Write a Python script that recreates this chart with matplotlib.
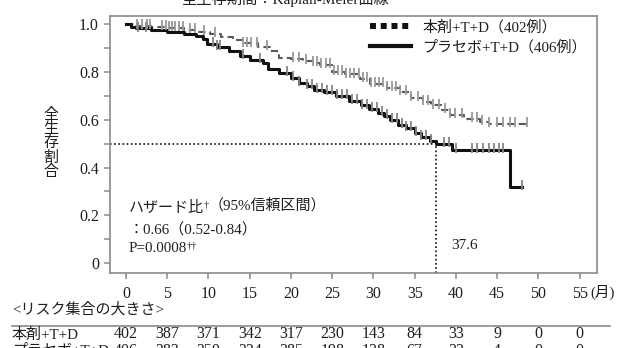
import numpy as np
import matplotlib.pyplot as plt
from matplotlib.lines import Line2D
from matplotlib.transforms import blended_transform_factory

plt.rcParams['font.family'] = ['Liberation Serif', 'Noto Sans CJK JP', 'DejaVu Sans']

# KM curve, 本剤+T+D (step points)
drug_t = [0, 1, 3, 5, 7, 8.6, 10.2, 11.5, 13.0, 14.2, 16.0, 17.5, 18.5, 20.0, 21.5,
          22.7, 23.5, 25.0, 26.5, 28.4, 29.6, 31.6, 33.2, 34.5, 36.0, 37.0, 38.3,
          39.3, 41.0, 42.9, 44.0, 48.6]
drug_s = [1.0, 0.995, 0.99, 0.985, 0.978, 0.97, 0.958, 0.948, 0.933, 0.92, 0.905, 0.89,
          0.86, 0.855, 0.848, 0.838, 0.83, 0.80, 0.79, 0.77, 0.75, 0.735, 0.715, 0.69,
          0.675, 0.66, 0.64, 0.62, 0.605, 0.59, 0.583, 0.583]

# KM curve, プラセボ+T+D
plac_t = [0, 0.6, 1.2, 3, 5, 7, 8.5, 9.3, 9.8, 11.0, 12.5, 13.8, 15.0, 16.6, 17.2,
          18.5, 20.0, 21.0, 22.0, 22.8, 24.0, 25.5, 27.0, 28.5, 29.5, 30.5, 31.3,
          32.0, 33.0, 34.0, 35.0, 35.8, 36.8, 37.6, 39.5, 46.5, 48.0]
plac_s = [1.0, 0.99, 0.983, 0.975, 0.968, 0.96, 0.95, 0.94, 0.918, 0.905, 0.89, 0.868,
          0.85, 0.838, 0.815, 0.795, 0.775, 0.755, 0.74, 0.725, 0.715, 0.70, 0.68,
          0.66, 0.645, 0.63, 0.615, 0.598, 0.58, 0.565, 0.545, 0.53, 0.512, 0.498,
          0.475, 0.317, 0.317]

# censored observations (months)
drug_cens = [1.3, 1.9, 2.5, 2.9, 4.4, 4.8, 5.2, 5.6, 6.0, 6.4, 6.9, 7.8, 8.4, 9.4, 10.8,
             14.2, 14.7, 15.2, 15.9, 17.1, 20.2, 21.0, 21.8, 22.7, 23.2, 23.7, 24.2,
             24.7, 25.2, 25.7, 26.2, 26.7, 27.2, 27.7, 28.2, 28.7, 29.2, 29.7, 30.2,
             30.7, 31.2, 31.7, 32.2, 32.7, 33.2, 33.9, 34.6, 35.4, 36.0, 36.6, 37.2,
             37.9, 38.7, 39.3, 39.9, 40.7, 41.9, 42.6, 43.1, 44.0, 45.0, 45.7, 46.5,
             47.2, 48.6]
plac_cens = [1.5, 2.4, 10.5, 11.0, 11.4, 14.2, 16.2, 19.5, 20.2, 21.0, 22.0, 22.6,
             23.2, 23.8, 24.4, 25.0, 25.6, 26.2, 26.8, 27.4, 28.0, 28.6, 29.2, 29.8,
             30.4, 31.0, 31.6, 32.2, 32.8, 33.4, 34.0, 34.6, 35.2, 35.8, 36.4, 37.0,
             38.5, 39.2, 40.0, 42.0, 42.6, 43.3, 44.0, 44.6, 45.2, 45.7, 48.0]

median_months = 37.6
x_ticks = [0, 5, 10, 15, 20, 25, 30, 35, 40, 45, 50, 55]
y_major = [0, 0.2, 0.4, 0.6, 0.8, 1.0]
y_labels = ['0', '0.2', '0.4', '0.6', '0.8', '1.0']
y_minor = [0.1, 0.3, 0.5, 0.7, 0.9]

risk_drug = [402, 387, 371, 342, 317, 230, 143, 84, 33, 9, 0, 0]
risk_plac = [406, 383, 350, 324, 285, 198, 128, 67, 22, 4, 0, 0]

drug_label = '本剤+T+D（402例）'
plac_label = 'プラセボ+T+D（406例）'


def surv_at(ts, ss, times):
    idx = np.searchsorted(ts, times, side='right') - 1
    return np.array(ss)[idx]


fig = plt.figure(figsize=(6.2, 3.48), dpi=100)
ax = fig.add_axes([0.1774, 0.2155, 0.7855, 0.7385])
txt = '#1e1e1e'
frame = '#8a8a8a'

ax.step(drug_t, drug_s, where='post', color='#5a5a5a', lw=1.5, ls=(0, (3.5, 2)))
ax.step(plac_t, plac_s, where='post', color='#111111', lw=2.2)
ax.plot(drug_cens, surv_at(drug_t, drug_s, drug_cens) + 0.008, ls='none', marker='|',
        ms=6.5, mew=1.3, color='#999999')
ax.plot(plac_cens, surv_at(plac_t, plac_s, plac_cens) + 0.008, ls='none', marker='|',
        ms=6.5, mew=1.3, color='#858585')

ax.set_xlim(-1.94, 57.1)
ax.set_ylim(-0.042, 1.035)

# median
ax.plot([-1.94, median_months], [0.5, 0.5], color='#111111', lw=1.2, ls=(0, (1, 1.5)))
ax.plot([median_months, median_months], [-0.042, 0.5], color='#111111', lw=1.2,
        ls=(0, (1, 1.5)))
ax.text(median_months + 1.8, 0.075, str(median_months), fontsize=11, color=txt,
        va='center', ha='left')

for sp in ax.spines.values():
    sp.set_color(frame)
    sp.set_linewidth(1.2)
ax.set_xticks(x_ticks)
ax.set_xticklabels([str(v) for v in x_ticks])
ax.set_yticks(y_major)
ax.set_yticklabels(y_labels)
ax.set_yticks(y_minor, minor=True)
ax.tick_params(axis='both', which='both', direction='out', length=4, width=1.1,
               color=frame, labelcolor=txt, labelsize=11.5, pad=4)
ax.tick_params(axis='x', pad=5)

ax.annotate('(月)', xy=(55, 0), xycoords=('data', 'axes fraction'),
            xytext=(8, -14), textcoords='offset points', ha='left', va='center',
            fontsize=10.5, color=txt)

handles = [Line2D([], [], color='#111111', lw=4.3, ls=(0, (1, 0.8))),
           Line2D([], [], color='#111111', lw=3)]
ax.legend(handles, [drug_label, plac_label], loc='upper left',
          bbox_to_anchor=(0.534, 0.985), frameon=False, fontsize=10.8,
          handlelength=2.7, handletextpad=0.8, labelspacing=0.35, borderpad=0,
          borderaxespad=0, labelcolor=txt)

# hazard ratio note
t1 = ax.text(0.3, 0.233, 'ハザード比', fontsize=10.8, color=txt, va='center')
d1 = ax.annotate('†', xy=(1, 1), xycoords=t1, va='top', ha='left', fontsize=7.5,
                 color=txt)
ax.annotate('（95%信頼区間）', xy=(1, 0), xycoords=d1, xytext=(0, -2),
            textcoords='offset points', va='bottom', ha='left', fontsize=10.8, color=txt)
ax.text(0.3, 0.137, '：0.66（0.52-0.84）', fontsize=10.8, color=txt, va='center')
t3 = ax.text(0.3, 0.062, 'P=0.0008', fontsize=10.8, color=txt, va='center')
ax.annotate('††', xy=(1, 1), xycoords=t3, va='top', ha='left', fontsize=7.5, color=txt)

# title (cut off at top of the image)
fig.text(0.5 - 0.04, 1.0 + 1 / 348, '全生存期間：Kaplan-Meier曲線', fontsize=11,
         color=txt, ha='center', va='center')

# y label stacked vertically
fig.text(51 / 620, 1 - 143.5 / 348, '\n'.join('全生存割合'), fontsize=10.8, color=txt,
         ha='center', va='center', linespacing=1.0,
         family=['Noto Sans CJK JP'])

# number at risk table
tr = blended_transform_factory(ax.transData, fig.transFigure)
fig.text(12 / 620, 1 - 310 / 348, '<リスク集合の大きさ>', fontsize=10.8, color=txt,
         ha='left', va='center')
fig.add_artist(Line2D([12 / 620, 610 / 620], [1 - 326 / 348, 1 - 326 / 348],
                      color=frame, lw=1.2))
rows = [('本剤+T+D', risk_drug, 334.5), ('プラセボ+T+D', risk_plac, 351)]
for name, vals, ypx in rows:
    fig.text(12 / 620, 1 - ypx / 348, name, fontsize=10.8, color=txt, ha='left',
             va='center')
    for x, v in zip(x_ticks, vals):
        ax.text(x, 1 - ypx / 348, str(v), transform=tr, fontsize=11.5, color=txt,
                ha='center', va='center', clip_on=False)

plt.savefig('out.png', dpi=100)
